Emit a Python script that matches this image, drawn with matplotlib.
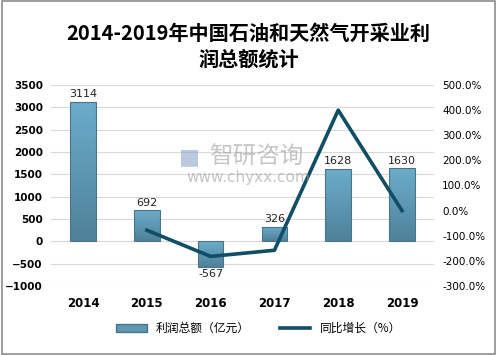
import numpy as np
import matplotlib
matplotlib.use("Agg")
import matplotlib.pyplot as plt
from matplotlib.patches import Rectangle
from matplotlib.lines import Line2D

plt.rcParams['font.family'] = ['Noto Sans CJK SC', 'DejaVu Sans']

# data
years = ['2014', '2015', '2016', '2017', '2018', '2019']
profit = [3114, 692, -567, 326, 1628, 1630]          # 利润总额（亿元）
growth = [None, -77.8, -181.9, -157.5, 399.4, 0.1]   # 同比增长（%）

fig = plt.figure(figsize=(4.97, 3.55), dpi=100)
fig.patch.set_facecolor('white')
# thin grey frame around the picture
fig.add_artist(Rectangle((0.004, 0.004), 0.992, 0.992, transform=fig.transFigure,
                         fill=False, edgecolor='#8c8c8c', lw=1.2))

ax = fig.add_axes([0.103, 0.194, 0.770, 0.567])
x = np.arange(len(years))
w = 0.4

# bars with a vertical gradient
grad = np.linspace(0, 1, 256).reshape(-1, 1)
cmap = matplotlib.colors.LinearSegmentedColormap.from_list('bar', ['#4f8199', '#6badcb'])
for xi, v in zip(x, profit):
    rect = Rectangle((xi - w / 2, min(0, v)), w, abs(v), facecolor='none',
                     edgecolor='#4a7488', lw=0.8, zorder=2)
    ax.add_patch(rect)
    im = ax.imshow(grad, extent=(xi - w / 2, xi + w / 2, min(0, v), max(0, v)),
                   origin='lower', cmap=cmap, aspect='auto', zorder=1)
    im.set_clip_path(rect)
    off = 60 if v >= 0 else -60
    ax.text(xi, v + off, str(v), ha='center', va='bottom' if v >= 0 else 'top',
            fontsize=8, family='DejaVu Sans', color='#222222')

ax.set_xlim(-0.5, len(years) - 0.5)
ax.set_ylim(-1000, 3500)
ax.set_yticks(np.arange(-1000, 3501, 500))
ax.set_xticks(x)
ax.set_xticklabels(years, fontweight='bold', fontsize=8.5, family='DejaVu Sans')
for lab in ax.get_yticklabels():
    lab.set_fontweight('bold')
    lab.set_fontsize(7.5)
    lab.set_family('DejaVu Sans')
ax.grid(axis='y', color='#d9d9d9', lw=0.8, zorder=0)
ax.set_axisbelow(True)
for s in ax.spines.values():
    s.set_visible(False)
ax.tick_params(length=0, pad=6)
ax.tick_params(axis='x', pad=8)

ax2 = ax.twinx()
gx = [xi for xi, g in zip(x, growth) if g is not None]
gy = [g for g in growth if g is not None]
ax2.plot(gx, gy, color='#0f4e64', lw=2.6, zorder=3)
ax2.set_ylim(-300, 500)
ax2.set_yticks(np.arange(-300, 501, 100))
ax2.set_yticklabels(['%.1f%%' % t for t in np.arange(-300, 501, 100)],
                    fontsize=7.5, family='DejaVu Sans')
for s in ax2.spines.values():
    s.set_visible(False)
ax2.tick_params(length=0, pad=6)

# watermark
fig.text(0.42, 0.558, '智研咨询', fontsize=17, color='#a0a0a0', alpha=0.6,
         ha='left', va='center')
fig.text(0.36, 0.558, '\u25a0', fontsize=16, color='#8fa6cc', alpha=0.6,
         ha='left', va='center', family='DejaVu Sans')
fig.text(0.5, 0.499, 'www.chyxx.com', fontsize=11, color='#a0a0a0', alpha=0.6,
         ha='center', va='center', family='DejaVu Sans')

fig.text(0.5, 0.87, '2014-2019年中国石油和天然气开采业利\n润总额统计', ha='center',
         va='center', fontsize=14.5, fontweight='bold', linespacing=1.3)

handles = [Rectangle((0, 0), 1, 1, facecolor='#5e98b3', edgecolor='#4a7488'),
           Line2D([0], [0], color='#0f4e64', lw=2.6)]
fig.legend(handles, ['利润总额（亿元）', '同比增长（%）'], loc='center',
           bbox_to_anchor=(0.52, 0.075), ncol=2, frameon=False, fontsize=8.5,
           handlelength=2.6, handleheight=0.7, columnspacing=2.5)

fig.savefig('out.png', dpi=100)
